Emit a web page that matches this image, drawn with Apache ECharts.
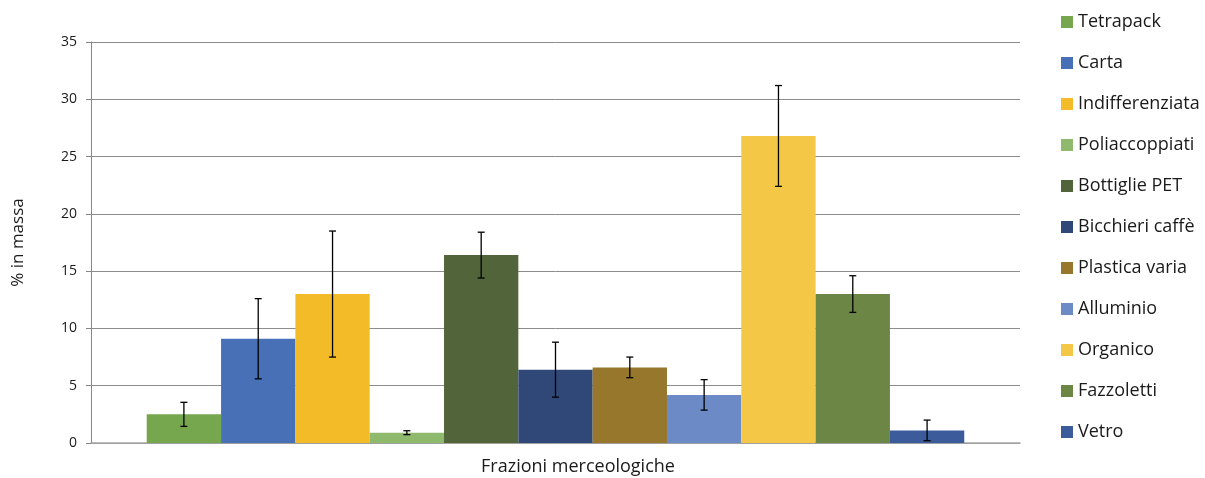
<!DOCTYPE html>
<html>
<head>
<meta charset="utf-8">
<script src="https://cdn.jsdelivr.net/npm/echarts@6/dist/echarts.min.js"></script>
<style>html,body{margin:0;padding:0;background:#fff}#c{width:1205px;height:478px}</style>
</head>
<body>
<div id="c"></div>
<script>
var categories = ['Frazioni merceologiche'];
var seriesNames = ['Tetrapack','Carta','Indifferenziata','Poliaccoppiati','Bottiglie PET','Bicchieri caffè','Plastica varia','Alluminio','Organico','Fazzoletti','Vetro'];
var values = [2.5, 9.1, 13.0, 0.9, 16.4, 6.4, 6.6, 4.2, 26.8, 13.0, 1.1];
var errors = [1.05, 3.5, 5.5, 0.17, 2.0, 2.4, 0.9, 1.33, 4.4, 1.6, 0.9];
var colors = ['#76A74E','#4870B6','#F4BB29','#8FBA6D','#52653A','#304878','#97772C','#6C8AC6','#F4C846','#6C8646','#3B5B9B'];
var yTicks = [0, 5, 10, 15, 20, 25, 30, 35];

var FONT = 'Open Sans';
var catGap = 0.12;
var n = seriesNames.length;

var series = seriesNames.map(function (name, i) {
  return {
    name: name,
    type: 'bar',
    data: [values[i]],
    itemStyle: { color: colors[i] },
    barGap: '0%',
    barCategoryGap: (catGap * 100) + '%',
    z: 2
  };
});

var errData = seriesNames.map(function (name, i) {
  return [0, values[i] - errors[i], values[i] + errors[i], i];
});

series.push({
  type: 'custom',
  name: 'err',
  data: errData,
  z: 10,
  renderItem: function (params, api) {
    var idx = api.value(3);
    var lo = api.coord([api.value(0), api.value(1)]);
    var hi = api.coord([api.value(0), api.value(2)]);
    var catW = api.size([1, 0])[0];
    var total = catW * (1 - catGap);
    var bw = total / n;
    var x = lo[0] - total / 2 + (idx + 0.5) * bw;
    var cap = 3.5;
    var st = { stroke: '#000', lineWidth: 1.3 };
    return {
      type: 'group',
      children: [
        { type: 'line', shape: { x1: x, y1: lo[1], x2: x, y2: hi[1] }, style: st },
        { type: 'line', shape: { x1: x - cap, y1: lo[1], x2: x + cap, y2: lo[1] }, style: st },
        { type: 'line', shape: { x1: x - cap, y1: hi[1], x2: x + cap, y2: hi[1] }, style: st }
      ]
    };
  }
});

var chart = echarts.init(document.getElementById('c'), null, { renderer: 'canvas' });
chart.setOption({
  animation: false,
  textStyle: { fontFamily: FONT },
  grid: { left: 91, right: 185, top: 42, bottom: 35, containLabel: false, outerBoundsMode: 'none' },
  legend: {
    data: seriesNames,
    orient: 'vertical',
    left: 1061,
    top: 12,
    padding: 0,
    itemWidth: 12,
    itemHeight: 12,
    itemGap: 21,
    icon: 'rect',
    textStyle: { fontFamily: FONT, fontSize: 18, color: '#1a1a1a', lineHeight: 20 }
  },
  xAxis: {
    type: 'category',
    data: categories,
    name: categories[0],
    nameLocation: 'middle',
    nameGap: 15,
    nameTextStyle: { fontFamily: FONT, fontSize: 18, color: '#1a1a1a', padding: [0, 0, 0, 45] },
    axisLabel: { show: false },
    axisTick: { show: false },
    axisLine: { lineStyle: { color: '#a6a6a6', width: 1.5 } }
  },
  yAxis: {
    type: 'value',
    min: 0,
    max: 35,
    interval: 5,
    name: '% in massa',
    nameLocation: 'middle',
    nameGap: 64,
    nameRotate: 90,
    nameTextStyle: { fontFamily: FONT, fontSize: 17, color: '#1a1a1a' },
    axisLine: { show: true, lineStyle: { color: '#868686', width: 1 } },
    axisTick: { show: true, length: 5, lineStyle: { color: '#868686' } },
    axisLabel: {
      fontFamily: FONT, fontSize: 14, color: '#1a1a1a', margin: 14,
      formatter: function (v) { return yTicks.indexOf(v) >= 0 ? String(v) : ''; }
    },
    splitLine: { lineStyle: { color: '#8c8c8c', width: 1 } }
  },
  series: series
});
</script>
</body>
</html>
